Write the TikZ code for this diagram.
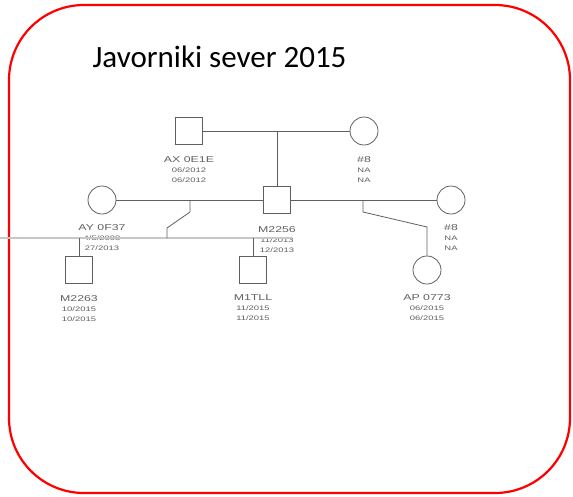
\documentclass[tikz,border=0pt]{standalone}
\usepackage{fontspec}
\setmainfont{Carlito}
\newfontfamily\lblfont[FakeStretch=1.45]{Liberation Sans}
\usetikzlibrary{positioning,calc}

\definecolor{pedline}{RGB}{95,95,95}
\definecolor{sibgray}{RGB}{200,200,200}
\definecolor{framered}{RGB}{255,0,0}

\newcommand{\pname}[1]{{\fontsize{8.5}{10}\selectfont #1}}

\begin{document}
\begin{tikzpicture}[x=1pt,y=-1pt]
  \tikzstyle{male}=[draw=pedline,line width=0.8pt,minimum size=27pt,inner sep=0pt]
  \tikzstyle{female}=[draw=pedline,line width=0.8pt,circle,minimum size=28pt,inner sep=0pt]
  \tikzstyle{lbl}=[font=\lblfont\fontsize{6.5}{10}\selectfont,text=pedline,align=center,inner sep=0pt]
  \tikzstyle{link}=[draw=pedline,line width=0.8pt]

  \useasboundingbox (0,0) rectangle (573,496);
  \draw[framered,line width=2.2pt,rounded corners=75pt] (9,5) rectangle (570,493);
  \node[anchor=base west,font=\fontsize{31}{34}\selectfont] (title) at (89,67) {Javorniki sever 2015};

  % Parents
  \node[male] (axsire) at (189,131) {};
  \node[female] (dam1) at (364,131) {};
  \node[lbl,below=11pt of axsire] (axlbl) {\pname{AX 0E1E}\\06/2012\\06/2012};
  \node[lbl,below=11pt of dam1] (dam1lbl) {\pname{\#8}\\NA\\NA};

  % Middle generation
  \node[female] (aydam) at (102,200) {};
  \node[male] (m2256) at (277,200) {};
  \node[female] (dam2) at (451,200) {};
  \node[lbl,below=10pt of aydam] (aylbl) {\pname{AY 0F37}\\4/5/2008\\27/2013};
  \node[lbl,below=12pt of m2256] (m2256lbl) {\pname{M2256}\\11/2013\\12/2013};
  \node[lbl,below=10pt of dam2] (dam2lbl) {\pname{\#8}\\NA\\NA};

  % Offspring
  \node[male] (m2263) at (79,270) {};
  \node[male] (m1tll) at (253,270) {};
  \node[female] (ap0773) at (427,270) {};
  \node[lbl,below=11pt of m2263] (m2263lbl) {\pname{M2263}\\10/2015\\10/2015};
  \node[lbl,below=11pt of m1tll] (m1tlllbl) {\pname{M1TLL}\\11/2015\\11/2015};
  \node[lbl,below=10pt of ap0773] (aplbl) {\pname{AP 0773}\\06/2015\\06/2015};

  % Mating lines
  \draw[link] (axsire.east) -- (dam1.west);
  \draw[link] (aydam.east) -- (m2256.west);
  \draw[link] (m2256.east) -- (dam2.west);

  % Descent lines
  \coordinate (top) at (277,131);
  \draw[link] (top) -- (m2256.north);

  \coordinate (sibleft) at (0,238);
  \coordinate (sibright) at (292,238);
  \draw[sibgray,line width=2pt] (sibleft) -- (sibright);

  \coordinate (drop1) at (190,200);
  \draw[link] (drop1) -- ++(0,12) -- (167,228) -- (167,238);
  \draw[link] (m2263.north) -- ++(0,-18);
  \draw[link] (m1tll.north) -- ++(0,-18);

  \coordinate (drop2) at (363,200);
  \draw[link] (drop2) -- ++(0,12) -- (427,227) -- (ap0773.north);
\end{tikzpicture}
\end{document}
